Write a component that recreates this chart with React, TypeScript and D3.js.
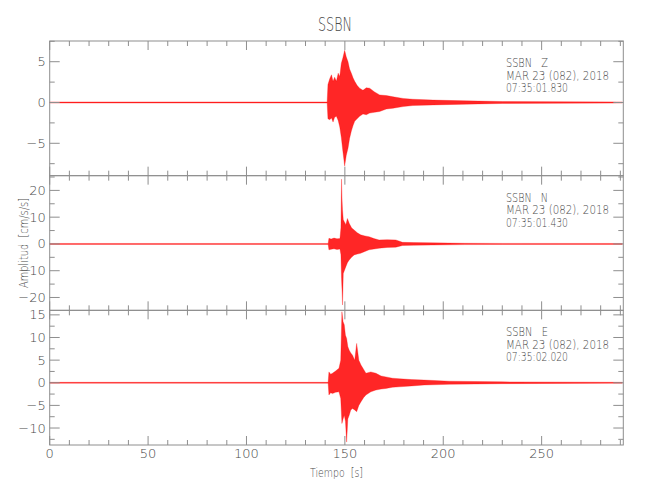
import React from 'react';
import * as d3 from 'd3';

const title = 'SSBN';
const xLabel = 'Tiempo  [s]';
const yLabel = 'Amplitud  [cm/s/s]';
const xDomain = [0, 291.5];
const xMajorTicks = [0, 50, 100, 150, 200, 250];
const xMinorStep = 10;

const channelNames = ['SSBN   Z', 'SSBN   N', 'SSBN   E'];
const dateLine = 'MAR 23 (082), 2018';
const startTimes = ['07:35:01.830', '07:35:01.430', '07:35:02.020'];

const yDomainZ = [-8.97, 7.54];
const yDomainN = [-24.8, 25.5];
const yDomainE = [-13.75, 16.0];
const yMajorZ = [5, 0, -5];
const yMajorN = [20, 10, 0, -10, -20];
const yMajorE = [15, 10, 5, 0, -5, -10];
const yMinorStepZ = 2.5;
const yMinorStepN = 5;
const yMinorStepE = 2.5;

// envelope of the waveforms (time s, upper, lower)
const zTime = [0, 141.0, 141.4, 142.3, 143.2, 144.0, 144.8, 145.7, 146.6, 147.4, 148.2, 149.0, 149.9, 150.7, 151.6, 152.4, 153.3, 154.2, 155.0, 156.2, 157.5, 159.2, 160.9, 162.6, 165.1, 167.7, 171.1, 174.5, 179.6, 184.6, 194.8, 211.7, 230, 291];
const zUpper = [0.07, 0.07, 2.2, 2.9, 3.4, 2.6, 3.1, 2.6, 3.6, 3.2, 4.8, 5.5, 6.4, 5.6, 5.0, 4.1, 3.6, 3.0, 2.6, 2.1, 1.75, 1.5, 1.8, 1.75, 1.3, 0.93, 0.85, 0.7, 0.5, 0.4, 0.3, 0.2, 0.12, 0.07];
const zLower = [-0.07, -0.07, -2.0, -2.1, -1.9, -2.4, -1.8, -1.7, -2.2, -3.0, -4.3, -6.0, -7.8, -6.5, -5.6, -4.4, -3.5, -2.8, -2.3, -2.0, -1.7, -1.4, -1.5, -1.3, -1.2, -1.1, -0.8, -0.7, -0.5, -0.37, -0.3, -0.2, -0.12, -0.07];

const nTime = [0, 141.5, 141.9, 143.0, 144.5, 146.0, 147.5, 148.0, 148.3, 148.6, 148.8, 149.2, 150.5, 151.3, 152.2, 153.4, 154.7, 156.3, 158.0, 160.2, 162.3, 164.8, 167.4, 171.5, 175.9, 179.3, 185, 194.5, 211, 230, 291];
const nUpper = [0.18, 0.18, 2.1, 1.8, 2.2, 1.9, 2.0, 6.0, 24.2, 16, 12.8, 9.0, 7.2, 9.5, 7.7, 6.0, 5.2, 4.2, 3.4, 3.0, 2.7, 2.0, 1.5, 1.6, 1.5, 0.6, 0.5, 0.4, 0.25, 0.2, 0.18];
const nLower = [-0.18, -0.18, -2.2, -2.0, -1.8, -2.1, -1.9, -4.0, -12.8, -18, -22.8, -11, -8.5, -7.0, -6.0, -5.0, -4.1, -3.8, -3.5, -2.8, -2.2, -1.9, -1.6, -1.3, -1.2, -0.6, -0.5, -0.4, -0.25, -0.2, -0.18];

const eTime = [0, 141.5, 141.9, 142.8, 143.7, 145.3, 147.0, 147.9, 148.5, 149.1, 149.7, 150.3, 150.9, 151.5, 152.2, 153.0, 153.9, 155.0, 156.0, 157.1, 158.2, 159.5, 160.7, 163.2, 165.8, 168.4, 170.9, 174.2, 177.6, 183.9, 190.3, 203, 230, 291];
const eUpper = [0.1, 0.1, 2.4, 1.9, 2.1, 2.6, 3.2, 5.0, 15.7, 13.5, 12.8, 10.5, 9.8, 8.0, 7.2, 6.6, 6.1, 5.0, 8.7, 5.0, 3.9, 3.0, 2.1, 2.4, 2.1, 1.5, 1.3, 1.0, 0.9, 0.7, 0.6, 0.35, 0.2, 0.1];
const eLower = [-0.1, -0.1, -2.7, -2.2, -2.4, -2.1, -2.0, -3.5, -9.0, -8.0, -7.2, -8.5, -13.1, -8.0, -7.2, -6.0, -5.7, -6.0, -6.4, -5.0, -4.2, -3.3, -2.7, -2.0, -1.6, -1.4, -1.25, -1.0, -0.9, -0.7, -0.5, -0.35, -0.2, -0.1];

const W = 650;
const H = 500;
const left = 49.7;
const right = 623.3;
const top = 41;
const bottom = 445;
const FONT = "'DejaVu Sans', sans-serif";
const AXIS = '#8e8e8e';
const TEXT = '#4a4a4a';

type Panel = {
  domain: number[];
  major: number[];
  minorStep: number;
  time: number[];
  upper: number[];
  lower: number[];
  name: string;
  start: string;
};

const panels: Panel[] = [
  { domain: yDomainZ, major: yMajorZ, minorStep: yMinorStepZ, time: zTime, upper: zUpper, lower: zLower, name: channelNames[0], start: startTimes[0] },
  { domain: yDomainN, major: yMajorN, minorStep: yMinorStepN, time: nTime, upper: nUpper, lower: nLower, name: channelNames[1], start: startTimes[1] },
  { domain: yDomainE, major: yMajorE, minorStep: yMinorStepE, time: eTime, upper: eUpper, lower: eLower, name: channelNames[2], start: startTimes[2] },
];

const fmt = (v: number) => (v < 0 ? '\u2212' + Math.abs(v) : String(v));

export default function App() {
  const x = d3.scaleLinear().domain(xDomain).range([left, right]);
  const ph = (bottom - top) / panels.length;
  const xMinor = d3.range(0, xDomain[1], xMinorStep);
  const txt = { fill: TEXT, fontWeight: 200 } as const;

  return (
    <svg width={W} height={H} style={{ position: 'absolute', left: 0, top: 0, background: '#fff' }} fontFamily={FONT}>
      <rect x={0} y={0} width={W} height={H} fill="#fff" />
      <text x={335} y={31} textAnchor="middle" fontSize={19} textLength={34} lengthAdjust="spacingAndGlyphs" {...txt}>{title}</text>
      {panels.map((p, i) => {
        const y0 = top + i * ph;
        const y1 = y0 + ph;
        const y = d3.scaleLinear().domain(p.domain).range([y1, y0]);
        const n = Math.min(p.time.length, p.upper.length, p.lower.length);
        const idx = d3.range(n);
        const area = d3
          .area<number>()
          .x((k) => x(p.time[k]))
          .y0((k) => y(p.lower[k]))
          .y1((k) => y(p.upper[k]));
        const yMinorVals = d3
          .range(Math.ceil(p.domain[0] / p.minorStep) * p.minorStep, p.domain[1] + 1e-9, p.minorStep)
          .filter((v) => !p.major.some((m) => Math.abs(m - v) < 1e-9));
        return (
          <g key={i}>
            <path d={area(idx) || ''} fill="#ff0000" fillOpacity={0.85} stroke="#ff0000" strokeWidth={0.4} strokeOpacity={0.7} />
            <rect x={left} y={y0} width={right - left} height={ph} fill="none" stroke={AXIS} strokeWidth={1} />
            {xMinor.map((v) => {
              const isMajor = xMajorTicks.includes(v);
              const len = isMajor ? 9 : 5;
              return (
                <g key={'x' + v}>
                  <line x1={x(v)} x2={x(v)} y1={y0} y2={y0 + len} stroke={AXIS} />
                  <line x1={x(v)} x2={x(v)} y1={y1} y2={y1 - len} stroke={AXIS} />
                </g>
              );
            })}
            {p.major.map((v) => (
              <g key={'ym' + v}>
                <line x1={left} x2={left + 10} y1={y(v)} y2={y(v)} stroke={AXIS} />
                <line x1={right} x2={right - 10} y1={y(v)} y2={y(v)} stroke={AXIS} />
                <text x={left - 4} y={y(v) + 4.5} textAnchor="end" fontSize={13} {...txt}>{fmt(v)}</text>
              </g>
            ))}
            {yMinorVals.map((v) => (
              <g key={'yn' + v}>
                <line x1={left} x2={left + 5} y1={y(v)} y2={y(v)} stroke={AXIS} />
                <line x1={right} x2={right - 5} y1={y(v)} y2={y(v)} stroke={AXIS} />
              </g>
            ))}
            <text x={506} y={y0 + 26} fontSize={12} textLength={42} lengthAdjust="spacingAndGlyphs" style={{ whiteSpace: 'pre' }} {...txt}>{p.name}</text>
            <text x={506} y={y0 + 38.5} fontSize={12} textLength={103} lengthAdjust="spacingAndGlyphs" {...txt}>{dateLine}</text>
            <text x={506} y={y0 + 51} fontSize={12} textLength={62} lengthAdjust="spacingAndGlyphs" {...txt}>{p.start}</text>
          </g>
        );
      })}
      {xMajorTicks.map((v) => (
        <text key={'xl' + v} x={x(v)} y={458} textAnchor="middle" fontSize={13} {...txt}>{v}</text>
      ))}
      <text x={336.5} y={477} textAnchor="middle" fontSize={13} textLength={53} lengthAdjust="spacingAndGlyphs" style={{ whiteSpace: 'pre' }} {...txt}>{xLabel}</text>
      <text transform={`translate(28,${243}) rotate(-90)`} textAnchor="middle" fontSize={13} textLength={90} lengthAdjust="spacingAndGlyphs" style={{ whiteSpace: 'pre' }} {...txt}>{yLabel}</text>
    </svg>
  );
}
